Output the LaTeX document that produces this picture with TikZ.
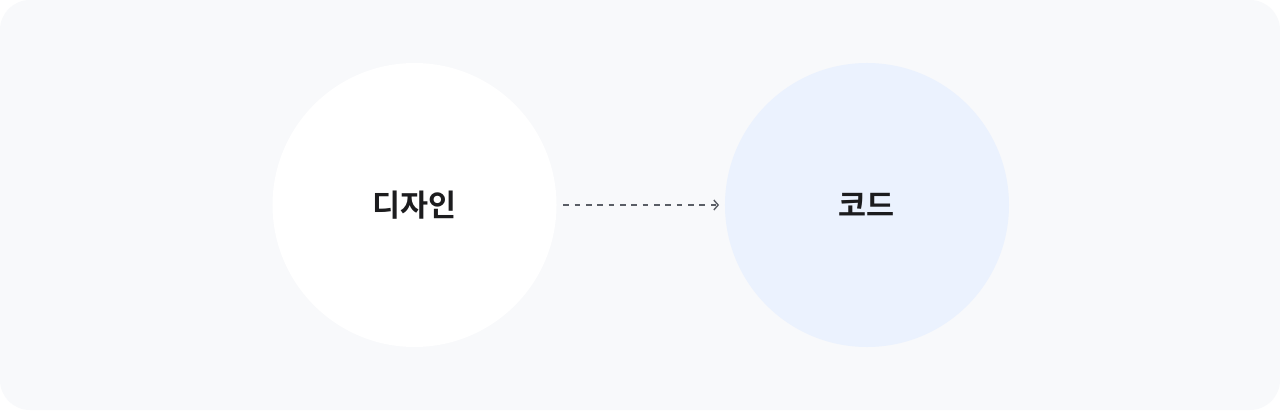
\documentclass[tikz,border=0pt]{standalone}
\usepackage{fontspec}
\newfontfamily\krfont{Noto Sans CJK KR}[BoldFont={Noto Sans CJK KR Bold}]
\usetikzlibrary{positioning,arrows.meta}
\definecolor{panelgray}{HTML}{F8F9FB}
\definecolor{codeblue}{HTML}{EBF2FE}
\definecolor{inkdark}{HTML}{1C1C1E}
\definecolor{arrowgray}{HTML}{5A5E66}
\tikzset{
  bubble/.style={circle, minimum size=8.52cm, inner sep=0pt,
    font=\krfont\bfseries\fontsize{26}{30}\selectfont, text=inkdark},
  flowarrow/.style={arrowgray, line width=1.2pt, dash pattern=on 0.17cm off 0.17cm,
    shorten <=0.2cm, shorten >=0.17cm, -{Straight Barb[length=0.13cm, width=0.3cm]}}
}
\begin{document}
\begin{tikzpicture}[x=0.03cm, y=0.03cm]
			\fill [white] (0,0) rectangle (1280,410);
			\fill [panelgray, rounded corners=0.9cm] (0,0) rectangle (1280,410);
			\node [bubble, fill=white] (design) at (414.5,205) {디자인};
			\node [bubble, fill=codeblue, right=5.04cm of design] (code) {코드};
			\draw [flowarrow] (design) -- (code);
		\end{tikzpicture}
\end{document}
